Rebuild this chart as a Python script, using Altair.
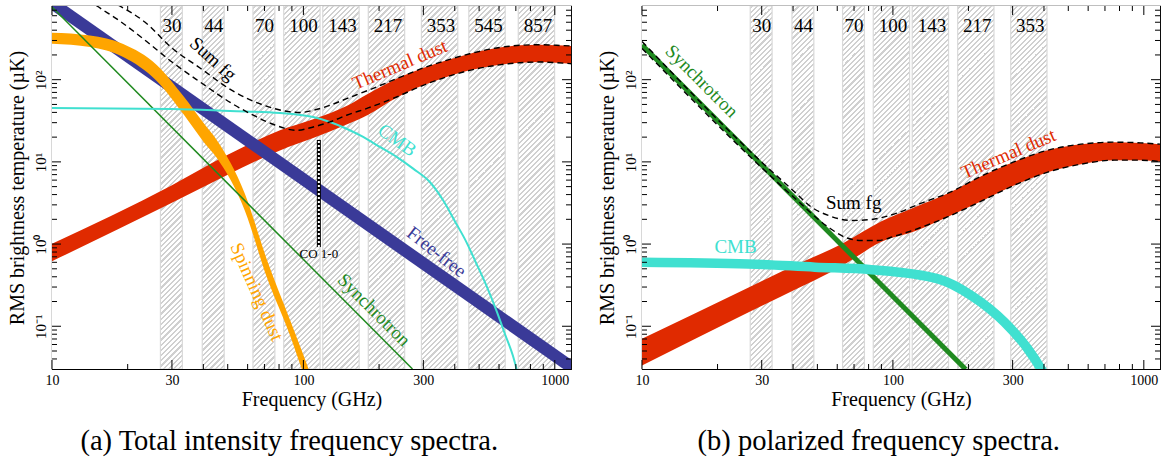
import altair as alt
import pandas as pd

FONT = "Liberation Serif"
W_L, W_R, H = 519, 518, 363
X_DOM = [10, 1160]
Y_DOM = [0.0302, 788]

RED = "#e02a00"
BLUE = "#3a3a98"
ORANGE = "#ffa500"
CYAN = "#40e0d0"
GREEN = "#1f8a1f"

# ---------------- instrument bands ----------------
band_labels = ["30", "44", "70", "100", "143", "217", "353", "545", "857"]
band_center = [30, 44, 70, 100, 143, 217, 353, 545, 857]
band_lo = [27.0, 39.6, 63.0, 83.5, 119.4, 181.2, 294.8, 455.0, 715.6]
band_hi = [33.0, 48.4, 77.0, 116.5, 166.6, 252.8, 411.2, 635.0, 998.0]
band_label_v = 455
n_bands_left, n_bands_right = 9, 7

# ---------------- ticks ----------------
x_major = [10, 30, 100, 300, 1000]
x_minor = [20, 40, 50, 60, 70, 80, 90, 200, 400, 500, 600, 700, 800, 900]
y_major = [0.1, 1, 10, 100]
y_minor = [0.04, 0.05, 0.06, 0.07, 0.08, 0.09,
           0.2, 0.3, 0.4, 0.5, 0.6, 0.7, 0.8, 0.9,
           2, 3, 4, 5, 6, 7, 8, 9,
           20, 30, 40, 50, 60, 70, 80, 90,
           200, 300, 400, 500, 600, 700]

# ---------------- (a) total intensity ----------------
ff_f = [10, 1160]
ff_lo = [695, 0.026]
ff_hi = [1052, 0.0394]

synL_f = [10, 271.6]
synL_v = [766, 0.0302]

spin_f = [10, 14.16, 19.2, 26.1, 33.3, 40.1, 45.2, 58.5, 71.4, 88.4, 101.4, 111.1]
spin_hi = [373, 345, 272, 151, 63.3, 29.7, 18.5, 4.10, 0.66, 0.120, 0.04, 0.01827]
spin_lo = [274, 250, 189, 96.4, 38.2, 17.5, 11.2, 2.55, 0.40, 0.078, 0.0235, 0.0108]

cmbL_f = [10, 30, 51, 80.7, 109.4, 127.5, 148.5, 172.9, 201.5, 234.8, 273.3, 318.4,
          359.6, 400.4, 445.6, 485, 535, 586, 634, 681, 704, 730]
cmbL_v = [45.3, 44.0, 41.6, 39.4, 35.1, 30.6, 25.3, 20.1, 15.2, 11.5, 8.27, 5.69,
          3.41, 1.9, 1.05, 0.6, 0.31, 0.155, 0.08, 0.044, 0.0305, 0.0197]

dustL_f = [10, 30, 50, 80.7, 109.4, 148.5, 181, 234.8, 299.5, 371, 459, 586, 726, 872, 1016, 1160]
dustL_hi = [1.01, 5.2, 12.2, 24.2, 33.0, 47.9, 67.6, 102.8, 138.8, 172, 207, 243, 262, 266.6, 262, 257]
dustL_lo = [0.618, 3.18, 6.98, 13.8, 19.5, 28.4, 37.5, 60.4, 85.5, 108, 130, 149.7, 161, 164, 161, 156.5]

sumL_up_f = [15.5, 18.6, 23.4, 30, 38.8, 52.4, 70.9, 84.4, 96.8, 109.4, 127.5, 148.5, 181,
             234.8, 299.5, 371, 459, 586, 726, 872, 1016, 1160]
sumL_up_v = [1040, 788, 503.5, 243, 138.8, 72.9, 47.9, 41.6, 39.9, 42.4, 48.8, 58.7, 74.3,
             102.8, 138.8, 172, 207, 243, 262, 266.6, 262, 257]
sumL_lo_f = [12.9, 15.1, 18.6, 23.4, 30, 38.8, 52.4, 64.1, 77.0, 94, 109.4, 127.5, 148.5,
             181, 234.8, 299.5, 371, 459, 586, 726, 872, 1016, 1160]
sumL_lo_v = [1103, 788, 517.8, 304, 164.2, 93.8, 50.6, 36.2, 28.1, 24.2, 26.6, 30.6, 36.9,
             45.3, 61.6, 85.5, 108, 130, 149.7, 161, 164, 161, 156.5]

co_f = [115.2]
co_lo = [0.92]
co_hi = [18.5]

# ---------------- (b) polarized ----------------
synR_f = [10, 194.8]
synR_v = [265, 0.030]

cmbR_f = [10, 26.6, 48.9, 82.1, 151.2, 205.2, 278.3, 344.8, 389.5, 414]
cmbR_v = [0.602, 0.574, 0.524, 0.488, 0.377, 0.237, 0.1122, 0.0531, 0.0303, 0.022]

dustR_f = [10, 26.6, 36.0, 64.3, 90.0, 122.1, 165.8, 224.9, 305, 414, 561.6, 762, 972.6, 1160]
dustR_hi = [0.0703, 0.2965, 0.464, 1.055, 1.899, 2.811, 4.162, 6.699, 10.06, 13.88, 16.42, 17.37, 17.02, 16.42]
dustR_lo = [0.0334, 0.1484, 0.2324, 0.5694, 1.07, 1.435, 2.154, 3.325, 5.206, 7.494, 9.376, 10.49, 10.49, 10.06]

sumR_up_f = [10, 30, 40.7, 47.4, 55.3, 68.4, 82.1, 101.7, 129.8, 165.8, 224.9, 305, 414, 561.6, 762, 972.6, 1160]
sumR_up_v = [292, 9.92, 4.28, 2.81, 2.23, 1.937, 1.992, 2.33, 3.15, 4.162, 6.699, 10.06, 13.88, 16.42, 17.37, 17.02, 16.42]
sumR_lo_f = [10, 30, 40.7, 55.3, 64.3, 74.9, 87.3, 101.7, 118.5, 165.8, 224.9, 305, 414, 561.6, 762, 972.6, 1160]
sumR_lo_v = [240, 8.5, 3.6, 1.605, 1.213, 1.106, 1.106, 1.25, 1.45, 2.154, 3.325, 5.206, 7.494, 9.376, 10.49, 10.49, 10.06]

X_TITLE = "Frequency (GHz)"
Y_TITLE = "RMS brightness temperature (µK)"


# ---------------- helpers ----------------
def xs():
    return alt.Scale(type="log", domain=X_DOM, nice=False)


def ys():
    return alt.Scale(type="log", domain=Y_DOM, nice=False)


def X(f):
    return alt.X(f, scale=xs())


def Y(f):
    return alt.Y(f, scale=ys())


def one_row():
    return pd.DataFrame({"a": [0]})


def hatch(width, period=5.2, frac=0.4, line="#d0d0d0", bg="#ffffff"):
    k = H / float(H * H + width * width)
    tmax = (width + H) * k
    dt = period * k
    stops = []
    t = 0.0
    while t < min(1.0, tmax + dt):
        a, b, c = t, min(1.0, t + dt * frac), min(1.0, t + dt)
        stops += [{"offset": a, "color": line}, {"offset": b, "color": line},
                  {"offset": b, "color": bg}, {"offset": c, "color": bg}]
        t += dt
    return {"gradient": "linear", "x1": 0, "y1": 0, "x2": width / H, "y2": 1, "stops": stops}


def band_layers(n, width):
    g_lo = [X_DOM[0]] + band_hi[:n]
    g_hi = band_lo[:n] + [X_DOM[1]]
    hatch_l = alt.Chart(one_row()).mark_rect(fill=hatch(width), strokeWidth=0).encode(
        x=alt.value(0), x2=alt.value(width), y=alt.value(0), y2=alt.value(H))
    gaps = alt.Chart(pd.DataFrame({"lo": g_lo, "hi": g_hi})).mark_rect(
        fill="white", strokeWidth=0, clip=True).encode(
        x=X("lo:Q"), x2="hi:Q", y=alt.value(0), y2=alt.value(H))
    outl = alt.Chart(pd.DataFrame({"lo": band_lo[:n], "hi": band_hi[:n]})).mark_rect(
        fill="white", fillOpacity=0, stroke="#d9d9d9", strokeWidth=1.2, clip=True).encode(
        x=X("lo:Q"), x2="hi:Q", y=alt.value(0), y2=alt.value(H))
    labs = alt.Chart(pd.DataFrame({"f": band_center[:n], "v": [band_label_v] * n,
                                   "t": band_labels[:n]})).mark_text(
        font=FONT, fontSize=19, color="black", align="center", baseline="middle").encode(
        x=X("f:Q"), y=Y("v:Q"), text="t:N")
    return [hatch_l, gaps, outl, labs]


def band_area(f, lo, hi, color):
    return alt.Chart(pd.DataFrame({"f": f, "lo": lo, "hi": hi})).mark_area(
        color=color, opacity=1, clip=True, interpolate="monotone").encode(
        x=X("f:Q"), y=Y("lo:Q"), y2="hi:Q")


def curve(f, v, color, width, dash=None, interp="monotone", cap="butt"):
    kw = dict(color=color, strokeWidth=width, clip=True, interpolate=interp, strokeCap=cap)
    if dash:
        kw["strokeDash"] = dash
    return alt.Chart(pd.DataFrame({"f": f, "v": v})).mark_line(**kw).encode(
        x=X("f:Q"), y=Y("v:Q"), order="f:Q")


def label(text, f, v, color, angle=0, size=19):
    return alt.Chart(pd.DataFrame({"f": [f], "v": [v], "t": [text]})).mark_text(
        font=FONT, fontSize=size, color=color, angle=angle, align="center",
        baseline="middle").encode(x=X("f:Q"), y=Y("v:Q"), text="t:N")


def tick_layers(width):
    out = []
    for vals, L in [(y_major, 9), (y_minor, 5)]:
        df = pd.DataFrame({"v": vals})
        out.append(alt.Chart(df).mark_rule(color="black", strokeWidth=1).encode(
            y=Y("v:Q"), x=alt.value(0), x2=alt.value(L)))
        out.append(alt.Chart(df).mark_rule(color="black", strokeWidth=1).encode(
            y=Y("v:Q"), x=alt.value(width), x2=alt.value(width - L)))
    for vals, L in [(x_major, 9), (x_minor, 5)]:
        df = pd.DataFrame({"f": vals})
        out.append(alt.Chart(df).mark_rule(color="black", strokeWidth=1).encode(
            x=X("f:Q"), y=alt.value(H), y2=alt.value(H - L)))
        out.append(alt.Chart(df).mark_rule(color="black", strokeWidth=1).encode(
            x=X("f:Q"), y=alt.value(0), y2=alt.value(L)))
    return out


def axis_layer():
    xa = alt.Axis(values=x_major, labelExpr="format(datum.value, 'd')",
                  labelPadding=4, labelFlush=False, labelOverlap=False,
                  title=X_TITLE, titlePadding=2)
    ya = alt.Axis(values=y_major,
                  labelExpr="datum.value == 100 ? '10²' : datum.value == 10 ? '10¹' : "
                            "datum.value == 1 ? '10⁰' : datum.value == 0.1 ? '10⁻¹' : ''",
                  labelAngle=270, labelAlign="center", labelBaseline="bottom",
                  labelFontSize=15, labelPadding=4, labelFlush=False, labelOverlap=False,
                  title=Y_TITLE, titlePadding=6)
    df = pd.DataFrame({"f": X_DOM, "v": Y_DOM})
    return alt.Chart(df).mark_point(size=1, opacity=0).encode(
        x=alt.X("f:Q", scale=xs(), axis=xa, title=X_TITLE),
        y=alt.Y("v:Q", scale=ys(), axis=ya, title=Y_TITLE))


def caption(text):
    return alt.TitleParams(text=text, orient="bottom", anchor="middle", frame="bounds",
                           font=FONT, fontSize=28.5, fontWeight="normal", color="black",
                           offset=18)


# ---------------- left panel ----------------
left_layers = [axis_layer()] + band_layers(n_bands_left, W_L) + [
    band_area(dustL_f, dustL_lo, dustL_hi, RED),
    band_area(ff_f, ff_lo, ff_hi, BLUE),
    band_area(spin_f, spin_lo, spin_hi, ORANGE),
    curve(synL_f, synL_v, GREEN, 1.5, interp="linear"),
    curve(cmbL_f, cmbL_v, CYAN, 2),
    curve(sumL_up_f, sumL_up_v, "black", 1.4, dash=[6, 4]),
    curve(sumL_lo_f, sumL_lo_v, "black", 1.4, dash=[6, 4]),
    alt.Chart(pd.DataFrame({"f": co_f, "lo": co_lo, "hi": co_hi})).mark_rule(
        color="black", strokeWidth=4).encode(x=X("f:Q"), y=Y("lo:Q"), y2="hi:Q"),
    alt.Chart(pd.DataFrame({"f": co_f, "lo": co_lo, "hi": co_hi})).mark_rule(
        color="white", strokeWidth=2, strokeDash=[2, 2]).encode(x=X("f:Q"), y=Y("lo:Q"), y2="hi:Q"),
    label("Sum fg", 43.7, 178.6, "black", 42),
    label("Thermal dust", 242, 152, RED, 337),
    label("CMB", 236, 18.3, CYAN, 35),
    label("Free-free", 338.5, 0.80, BLUE, 38),
    label("Synchrotron", 190.7, 0.158, GREEN, 45),
    label("Spinning dust", 65.3, 0.262, ORANGE, 66),
    label("CO 1-0", 115.2, 0.755, "black", 0, 13),
] + tick_layers(W_L)

left = alt.layer(*left_layers).properties(
    width=W_L, height=H, title=caption("(a) Total intensity frequency spectra."))

# ---------------- right panel ----------------
right_layers = [axis_layer()] + band_layers(n_bands_right, W_R) + [
    band_area(dustR_f, dustR_lo, dustR_hi, RED),
    curve(synR_f, synR_v, GREEN, 5, interp="linear"),
    curve(cmbR_f, cmbR_v, CYAN, 9.5),
    curve(sumR_up_f, sumR_up_v, "black", 1.4, dash=[6, 4]),
    curve(sumR_lo_f, sumR_lo_v, "black", 1.4, dash=[6, 4]),
    label("Synchrotron", 17.3, 95.9, GREEN, 45),
    label("Sum fg", 69.8, 3.17, "black", 0),
    label("CMB", 23.6, 0.917, CYAN, 0),
    label("Thermal dust", 288.7, 12.5, RED, 337),
] + tick_layers(W_R)

right = alt.layer(*right_layers).properties(
    width=W_R, height=H, title=caption("(b) polarized frequency spectra."))

chart = alt.hconcat(left, right, spacing=23).properties(
    padding={"left": 6, "top": 4, "right": 5, "bottom": 0},
    background="white",
).configure_view(
    stroke="black", strokeWidth=1.1
).configure_axis(
    grid=False, ticks=False, domain=False,
    labelFont=FONT, labelFontSize=14, labelColor="black",
    titleFont=FONT, titleFontSize=20, titleFontWeight="normal", titleColor="black",
)

chart.save("out.html", embed_options={"renderer": "svg", "actions": False})
